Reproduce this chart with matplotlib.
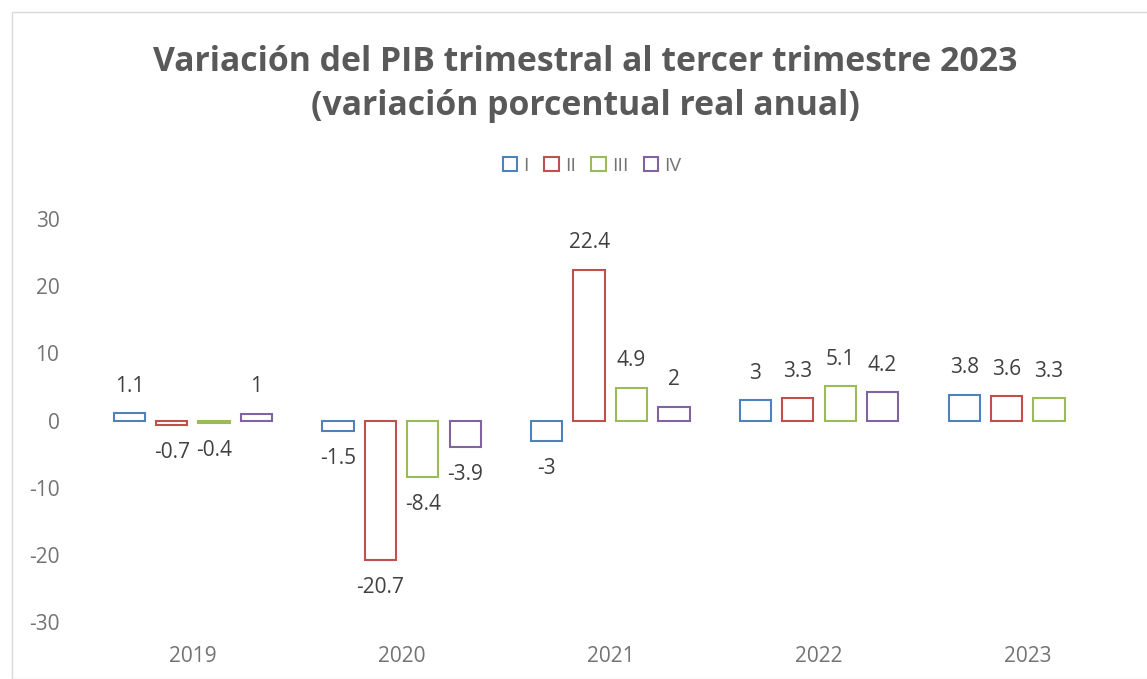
import matplotlib.pyplot as plt
import numpy as np
from matplotlib.patches import Patch, Rectangle

# Datos del grafico
years = ['2019', '2020', '2021', '2022', '2023']
series = ['I', 'II', 'III', 'IV']
q1 = [1.1, -1.5, -3, 3, 3.8]
q2 = [-0.7, -20.7, 22.4, 3.3, 3.6]
q3 = [-0.4, -8.4, 4.9, 5.1, 3.3]
q4 = [1, -3.9, 2, 4.2, None]
colors = ['#4F81BD', '#C0504D', '#9BBB59', '#8064A2']

plt.rcParams['font.family'] = ['Open Sans', 'DejaVu Sans']
plt.rcParams['axes.unicode_minus'] = False

fig = plt.figure(figsize=(11.47, 6.79), dpi=100)
fig.patches.append(Rectangle((12 / 1147, 0), 1.0, 1 - 12 / 679, transform=fig.transFigure,
                             fill=False, edgecolor='#D9D9D9', linewidth=1))
ax = fig.add_axes([0.0772, 0.0839, 0.9098, 0.5936])

x = np.arange(len(years))
slot = 0.203
width = 0.15
for i, (vals, c) in enumerate(zip([q1, q2, q3, q4], colors)):
    xs = [xx for xx, v in zip(x, vals) if v is not None]
    vs = [v for v in vals if v is not None]
    pos = np.array(xs) + (i - 1.5) * slot
    ax.bar(pos, vs, width=width, facecolor='white', edgecolor=c, linewidth=1.5, label=series[i])
    for p, v in zip(pos, vs):
        off = 19.5 if v >= 0 else -20
        ax.annotate(f'{v:g}', (p, v), xytext=(0, off), textcoords='offset points',
                    ha='center', va='center', fontsize=15, color='#404040')

ax.set_xlim(-0.5, len(years) - 0.5)
ax.set_ylim(-30, 30)
ax.set_yticks(range(-30, 31, 10))
ax.set_xticks(x)
ax.set_xticklabels(years)
for s in ax.spines.values():
    s.set_visible(False)
ax.tick_params(axis='both', length=0, labelsize=15, colors='#737373')
ax.tick_params(axis='y', pad=21)
ax.tick_params(axis='x', pad=17)

handles = [Patch(facecolor='white', edgecolor=c, linewidth=1.5, label=s) for s, c in zip(series, colors)]
fig.legend(handles=handles, loc='center', bbox_to_anchor=(592 / 1147, 1 - 166 / 679), ncol=4,
           frameon=False, fontsize=14, handlelength=0.75, handleheight=0.75, handletextpad=0.3,
           columnspacing=0.8, labelcolor='#737373')

fig.text(585 / 1147, 1 - 84 / 679, 'Variación del PIB trimestral al tercer trimestre 2023\n(variación porcentual real anual)',
         ha='center', va='center', fontsize=24.3, fontweight='bold', color='#595959', linespacing=1.39)

fig.savefig('out.png', dpi=100)
